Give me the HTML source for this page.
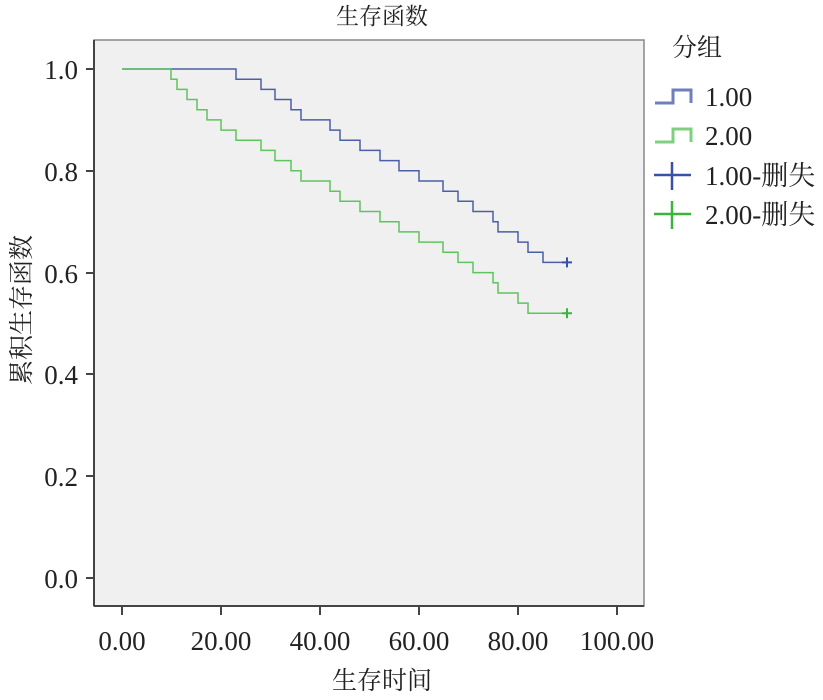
<!DOCTYPE html>
<html><head><meta charset="utf-8"><style>
body{margin:0;background:#fff;}
svg text{font-family:"Liberation Serif","Noto Serif CJK SC",serif;fill:#222;}
</style></head><body>
<svg width="823" height="695" xmlns="http://www.w3.org/2000/svg">
<text x="382" y="24" font-size="23" text-anchor="middle">生存函数</text>
<rect x="94" y="40" width="550" height="566" fill="#f0f0f0" stroke="#888" stroke-width="1.5"/>
<line x1="94" y1="40" x2="94" y2="606" stroke="#444" stroke-width="2"/>
<line x1="94" y1="606" x2="644" y2="606" stroke="#444" stroke-width="2"/>
<g stroke="#444" stroke-width="2">
<line x1="86" y1="69" x2="94" y2="69"/><line x1="86" y1="171" x2="94" y2="171"/><line x1="86" y1="273" x2="94" y2="273"/><line x1="86" y1="374" x2="94" y2="374"/><line x1="86" y1="476" x2="94" y2="476"/><line x1="86" y1="578" x2="94" y2="578"/>
<line x1="122" y1="606" x2="122" y2="615"/><line x1="221" y1="606" x2="221" y2="615"/><line x1="320" y1="606" x2="320" y2="615"/><line x1="419" y1="606" x2="419" y2="615"/><line x1="518" y1="606" x2="518" y2="615"/><line x1="617" y1="606" x2="617" y2="615"/>
</g>
<g font-size="27" text-anchor="end">
<text x="78" y="79">1.0</text><text x="78" y="181">0.8</text><text x="78" y="283">0.6</text><text x="78" y="384">0.4</text><text x="78" y="486">0.2</text><text x="78" y="588">0.0</text>
</g>
<g font-size="27" text-anchor="middle">
<text x="122" y="650">0.00</text><text x="221" y="650">20.00</text><text x="320" y="650">40.00</text><text x="419" y="650">60.00</text><text x="518" y="650">80.00</text><text x="617" y="650">100.00</text>
</g>
<text x="382" y="689" font-size="25" text-anchor="middle">生存时间</text>
<text transform="translate(30,310) rotate(-90)" font-size="25" text-anchor="middle">累积生存函数</text>
<path fill="none" stroke="#4a5fa8" stroke-width="1.5" d="M122,69 H236 V79.2 H261 V89.4 H275 V99.5 H291 V109.7 H301 V119.9 H330 V130.1 H340 V140.3 H360 V150.4 H380 V160.6 H399 V170.8 H419 V181 H443 V191.2 H458 V201.3 H473 V211.5 H493 V221.7 H498 V231.9 H518 V242.1 H528 V252.2 H543 V262.4 H567"/>
<path fill="none" stroke="#5ec45e" stroke-width="1.5" d="M122,69 H171 V79.2 H177 V89.4 H187 V99.5 H197 V109.7 H207 V119.9 H221 V130.1 H236 V140.3 H261 V150.4 H275 V160.6 H291 V170.8 H301 V181 H330 V191.2 H340 V201.3 H360 V211.5 H380 V221.7 H399 V231.9 H419 V242.1 H443 V252.2 H458 V262.4 H473 V272.6 H493 V282.8 H498 V293 H518 V303.1 H528 V313.3 H567"/>
<g stroke-width="2">
<path d="M562,262.4H572M567,257.4V267.4" stroke="#3a50a8"/>
<path d="M562,313.3H572M567,308.3V318.3" stroke="#3cb43c"/>
</g>
<text x="672" y="56" font-size="25">分组</text>
<path d="M655,103H673V90H691V103" fill="none" stroke="#4a5fa8" stroke-width="3" opacity="0.8"/>
<text x="705" y="106" font-size="27">1.00</text>
<path d="M655,142H673V129H691V142" fill="none" stroke="#5ec45e" stroke-width="3" opacity="0.8"/>
<text x="705" y="145" font-size="27">2.00</text>
<path d="M654,175H691M672,162V190" stroke="#3a50a8" stroke-width="2.5"/>
<text x="705" y="185" font-size="27">1.00-删失</text>
<path d="M654,214H691M672,201V229" stroke="#3cb43c" stroke-width="2.5"/>
<text x="705" y="224" font-size="27">2.00-删失</text>
</svg>
</body></html>
